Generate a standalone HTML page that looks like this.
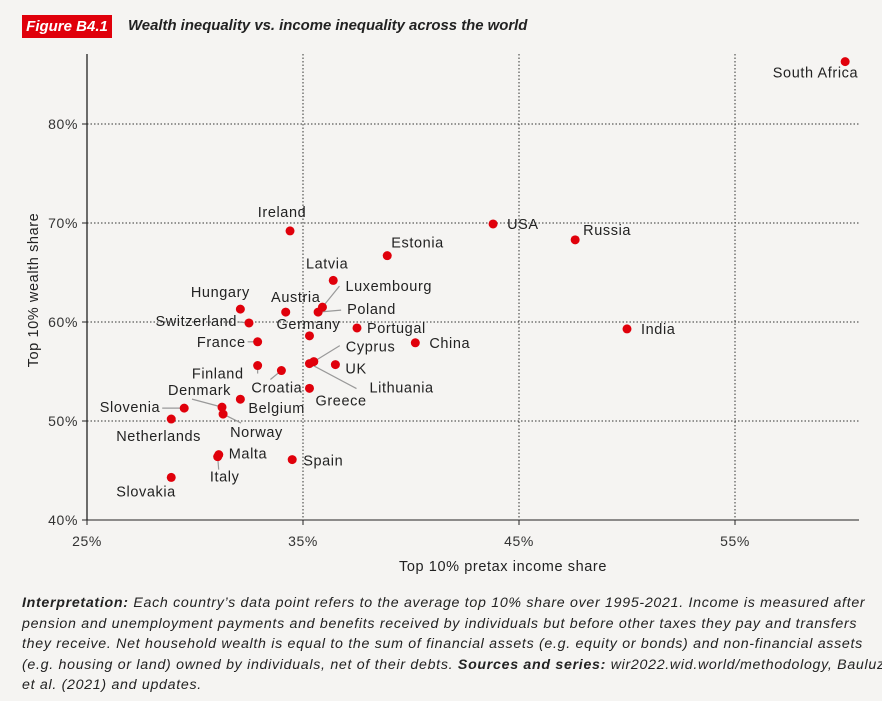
<!DOCTYPE html>
<html><head><meta charset="utf-8"><style>
body{margin:0;background:#f5f4f2;width:882px;height:701px;overflow:hidden;font-family:"Liberation Sans",sans-serif;color:#222}
#fig{position:absolute;left:22px;top:15px;width:90px;height:23px;background:#e0000b;color:#fff;font-style:italic;font-weight:bold;font-size:15px;line-height:23px;text-align:center}
#ttl{position:absolute;left:128px;top:15px;font-style:italic;font-weight:bold;font-size:14.9px;line-height:23px;color:#222;white-space:nowrap}
#note{position:absolute;left:22px;top:593px;width:880px;font-style:italic;font-size:14.2px;line-height:20.5px;letter-spacing:0.7px;color:#222;white-space:nowrap}
svg{position:absolute;left:0;top:0}
svg text{letter-spacing:0.6px}
</style></head><body>
<div id="fig">Figure B4.1</div>
<div id="ttl">Wealth inequality vs. income inequality across the world</div>
<svg id="chart" width="882" height="590"></svg>
<div id="note"><b>Interpretation:</b> Each country’s data point refers to the average top 10% share over 1995-2021. Income is measured after<br>pension and unemployment payments and benefits received by individuals but before other taxes they pay and transfers<br>they receive. Net household wealth is equal to the sum of financial assets (e.g. equity or bonds) and non-financial assets<br>(e.g. housing or land) owned by individuals, net of their debts. <b>Sources and series:</b> wir2022.wid.world/methodology, Bauluz<br>et al. (2021) and updates.</div>
<script>
const countries=["South Africa","USA","Russia","India","China","Estonia","Ireland","Latvia","Luxembourg","Poland","Austria","Hungary","Switzerland","Germany","Portugal","France","Cyprus","Lithuania","UK","Finland","Croatia","Greece","Denmark","Belgium","Norway","Slovenia","Netherlands","Malta","Italy","Spain","Slovakia"];
const incomeShare=[60.1,43.8,47.6,50.0,40.2,38.9,34.4,36.4,35.9,35.7,34.2,32.1,32.5,35.3,37.5,32.9,35.5,35.3,36.5,32.9,34.0,35.3,31.25,32.1,31.3,29.5,28.9,31.1,31.05,34.5,28.9];
const wealthShare=[86.3,69.9,68.3,59.3,57.9,66.7,69.2,64.2,61.5,61.0,61.0,61.3,59.9,58.6,59.4,58.0,56.0,55.8,55.7,55.6,55.1,53.3,51.4,52.2,50.7,51.3,50.2,46.6,46.4,46.1,44.3];
const xTicks=[25,35,45,55];
const yTicks=[40,50,60,70,80];
const labelPos=[[13,16,"end"],[14,5,"start"],[8,-5,"start"],[14,5,"start"],[14,5,"start"],[4,-8,"start"],[-8,-14,"middle"],[15,-12,"end"],[23,-16,"start",17,-21],[29,2,"start",23,-2],[10,-10,"middle"],[-20,-12,"middle"],[-12,3,"end",-10,-1],[-1,-7,"middle"],[10,5,"start"],[-12,5,"end",-10,0],[32,-10,"start",26,-16],[60,29,"start",47,25],[10,9,"start"],[-14,13,"end",0,8],[-30,22,"start",-11,9],[6,17,"start"],[-54,-12,"start",-30,-8],[8,14,"start"],[7,23,"start",18,9],[-24,4,"end",-22,0],[-55,22,"start"],[10,4,"start"],[7,25,"middle",1,13],[11,6,"start"],[-55,19,"start"]];
const NS="http://www.w3.org/2000/svg",svg=document.getElementById("chart");
const X=v=>87+(v-25)*21.6, Y=v=>520-(v-40)*9.9;
function mk(t,a,p){const e=document.createElementNS(NS,t);for(const k in a)e.setAttribute(k,a[k]);(p||svg).appendChild(e);return e;}
yTicks.forEach(t=>{
 const g=mk("line",{x1:87,x2:859,y1:Y(t),y2:Y(t),stroke:t==40?"#222":"#333","stroke-width":1,"stroke-dasharray":t==40?"":"1.5 2"});
 
 
 mk("line",{x1:82,x2:87,y1:Y(t),y2:Y(t),stroke:"#222"});
 const l=mk("text",{x:78,y:Y(t)+5,"text-anchor":"end","font-size":14,fill:"#333"});l.textContent=t+"%";
 
 
});
xTicks.forEach(t=>{
 if(t>25){const g=mk("line",{x1:X(t),x2:X(t),y1:54,y2:520,stroke:"#333","stroke-dasharray":"1.5 2"});
 
 }
 mk("line",{x1:X(t),x2:X(t),y1:520,y2:525,stroke:"#222"});
 const l=mk("text",{x:X(t),y:546,"text-anchor":"middle","font-size":14,fill:"#333"});l.textContent=t+"%";
 
 
});
const ax=mk("line",{x1:87,x2:87,y1:54,y2:520,stroke:"#222","stroke-width":1.3});


const xt=mk("text",{x:503,y:571,"text-anchor":"middle","font-size":14.5,fill:"#222"});xt.textContent="Top 10% pretax income share";


const yt=mk("text",{x:0,y:0,"text-anchor":"middle","font-size":14.5,fill:"#222",transform:"translate(38,290) rotate(-90)"});yt.textContent="Top 10% wealth share";


countries.forEach((c,i)=>{
 const px=X(incomeShare[i]),py=Y(wealthShare[i]),L=labelPos[i];
 if(L.length>3){const ln=mk("line",{x1:px,y1:py,x2:px+L[3],y2:py+L[4],stroke:"#999","stroke-width":1.2});
 
 }
});
countries.forEach((c,i)=>{
 const px=X(incomeShare[i]),py=Y(wealthShare[i]),L=labelPos[i];
 const d=mk("circle",{cx:px,cy:py,r:4.5,fill:"#e0000b"});
 
 
 const t=mk("text",{x:px+L[0],y:py+L[1],"text-anchor":L[2],"font-size":14.5,fill:"#222"});t.textContent=c;
 
 
});
</script>
</body></html>
